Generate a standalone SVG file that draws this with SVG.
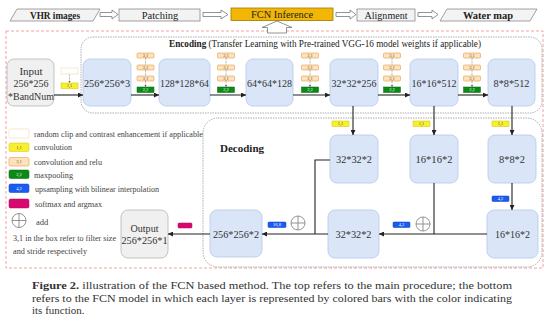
<svg xmlns="http://www.w3.org/2000/svg" width="550" height="322" viewBox="0 0 550 322">
<defs>
<style>
text{font-family:"Liberation Serif","Times New Roman",serif;fill:#222}
.step{fill:#f3f3f3;stroke:#8a8a8a;stroke-width:0.8}
.fcn{fill:#f2b705;stroke:#a07800;stroke-width:0.8}
.hollow{fill:#fff;stroke:#777;stroke-width:0.8}
.tl{font-size:10.5px;text-anchor:middle}
.node{fill:#dae6f8;stroke:#b3c8ea;stroke-width:0.8}
.gnode{fill:#f0f0f0;stroke:#b5b5b5;stroke-width:0.8}
.nl{font-size:11px;text-anchor:middle;dominant-baseline:central;fill:#333}
.b-w{fill:#fff;stroke:#f0d9b0;stroke-width:0.6}
.b-y{fill:#f7f030;stroke:#d8c000;stroke-width:0.5}
.b-o{fill:#fde2bd;stroke:#e49b48;stroke-width:0.6}
.b-g{fill:#0b8a16;stroke:#06650f;stroke-width:0.5}
.b-b{fill:#1a5cf2;stroke:#0b3fb8;stroke-width:0.5}
.b-m{fill:#d8086f;stroke:#b0055a;stroke-width:0.5}
.bt{font-size:4.5px;text-anchor:middle;dominant-baseline:central;fill:#6a4a10}
.btw{font-size:4.5px;text-anchor:middle;dominant-baseline:central;fill:#fff}
.lt{font-size:8.5px;dominant-baseline:central;fill:#444}
.wire{fill:none;stroke:#222;stroke-width:1.1}
.tiny{fill:none;stroke:#555;stroke-width:0.5;stroke-dasharray:0.8,0.6}
.addc{fill:#fff;stroke:#888;stroke-width:0.9}
.cap{font-size:11px;fill:#333}
</style>
<marker id="ah" viewBox="0 0 10 10" refX="10" refY="5" markerWidth="5" markerHeight="5" orient="auto" markerUnits="userSpaceOnUse">
<path d="M0,0 L10,5 L0,10 z" fill="#222"/>
</marker>
<marker id="ahs" viewBox="0 0 10 10" refX="10" refY="5" markerWidth="2.5" markerHeight="2.5" orient="auto" markerUnits="userSpaceOnUse">
<path d="M0,0 L10,5 L0,10 z" fill="#555"/>
</marker>
<g id="addsym">
<circle cx="0" cy="0" r="7" class="addc"/>
<path d="M-7,0 H7 M0,-7 V7" stroke="#888" stroke-width="0.9"/>
</g>
</defs>

<!-- top procedure -->
<g id="step-vhr">
<polygon class="step" points="17,9 100,9 93,21 10,21"/>
<text class="tl" x="55" y="18.5" font-weight="bold" textLength="50" lengthAdjust="spacingAndGlyphs">VHR images</text>
</g>
<g id="step-patching">
<rect class="step" x="119" y="9" width="81" height="12"/>
<text class="tl" x="160" y="18.5">Patching</text>
</g>
<g id="step-fcn">
<rect class="fcn" x="231" y="8" width="102" height="12.5"/>
<text class="tl" x="282" y="18" textLength="62" lengthAdjust="spacingAndGlyphs">FCN Inference</text>
</g>
<g id="step-alignment">
<rect class="step" x="357" y="9" width="58" height="12"/>
<text class="tl" x="386" y="18.5" textLength="43" lengthAdjust="spacingAndGlyphs">Alignment</text>
</g>
<g id="step-water">
<polygon class="step" points="447,9 537,9 530,21 440,21"/>
<text class="tl" x="488" y="18.5" font-weight="bold" textLength="50" lengthAdjust="spacingAndGlyphs">Water map</text>
</g>
<g id="top-arrows">
<polygon class="hollow" points="100,12.5 112,12.5 112,10 118,14.5 112,19 112,16.5 100,16.5"/>
<polygon class="hollow" points="203,12.5 221,12.5 221,10 228,14.5 221,19 221,16.5 203,16.5"/>
<polygon class="hollow" points="336,12.5 350,12.5 350,10 356,14.5 350,19 350,16.5 336,16.5"/>
<polygon class="hollow" points="418,12.5 432,12.5 432,10 438,14.5 432,19 432,16.5 418,16.5"/>
</g>

<!-- containers -->
<rect id="fcn-model" x="6" y="31" width="537" height="237" fill="none" stroke="#f08a8a" stroke-width="0.8" stroke-dasharray="3,2"/>
<polygon id="up-arrow" class="hollow" points="277,21 292,27.5 286.5,27.5 286.5,33 267.5,33 267.5,27.5 262,27.5"/>
<g id="encoding">
<rect x="81" y="37" width="461" height="76" rx="12" fill="none" stroke="#9a9a9a" stroke-width="0.8" stroke-dasharray="1.5,1"/>
<text x="169" y="46.5" font-size="10" textLength="312" lengthAdjust="spacingAndGlyphs" fill="#333"><tspan font-weight="bold">Encoding</tspan> (Transfer Learning with Pre-trained VGG-16 model weights if applicable)</text>
</g>
<g id="decoding">
<rect x="203" y="118" width="339" height="149" rx="15" fill="none" stroke="#9a9a9a" stroke-width="0.8" stroke-dasharray="1.5,1"/>
<text x="242" y="152" font-size="11" font-weight="bold" text-anchor="middle">Decoding</text>
</g>

<!-- encoding nodes -->
<g id="n-input">
<rect class="gnode" x="7" y="59" width="47" height="47" rx="7"/>
<text class="nl" x="31" y="71">Input</text>
<text class="nl" x="31" y="83" textLength="35" lengthAdjust="spacingAndGlyphs">256*256</text>
<text class="nl" x="31" y="95.5" textLength="46" lengthAdjust="spacingAndGlyphs">*BandNum</text>
</g>
<g id="n-e1">
<rect class="node" x="83" y="59" width="48" height="47" rx="7"/>
<text class="nl" x="107" y="82.5" textLength="46" lengthAdjust="spacingAndGlyphs">256*256*3</text>
</g>
<g id="n-e2">
<rect class="node" x="159" y="59" width="51" height="47" rx="7"/>
<text class="nl" x="184.5" y="82.5" textLength="49" lengthAdjust="spacingAndGlyphs">128*128*64</text>
</g>
<g id="n-e3">
<rect class="node" x="246" y="59" width="47" height="47" rx="7"/>
<text class="nl" x="269.5" y="82.5" textLength="45" lengthAdjust="spacingAndGlyphs">64*64*128</text>
</g>
<g id="n-e4">
<rect class="node" x="330" y="59" width="48" height="47" rx="7"/>
<text class="nl" x="354" y="82.5" textLength="45" lengthAdjust="spacingAndGlyphs">32*32*256</text>
</g>
<g id="n-e5">
<rect class="node" x="410" y="59" width="48" height="47" rx="7"/>
<text class="nl" x="434" y="82.5" textLength="45" lengthAdjust="spacingAndGlyphs">16*16*512</text>
</g>
<g id="n-e6">
<rect class="node" x="488" y="59" width="47" height="47" rx="7"/>
<text class="nl" x="511.5" y="82.5" textLength="36" lengthAdjust="spacingAndGlyphs">8*8*512</text>
</g>

<!-- decoding nodes -->
<g id="n-d1">
<rect class="node" x="330" y="135" width="48" height="48" rx="7"/>
<text class="nl" x="354" y="159" textLength="36" lengthAdjust="spacingAndGlyphs">32*32*2</text>
</g>
<g id="n-d2">
<rect class="node" x="410" y="135" width="48" height="48" rx="7"/>
<text class="nl" x="434" y="159" textLength="37" lengthAdjust="spacingAndGlyphs">16*16*2</text>
</g>
<g id="n-d3">
<rect class="node" x="488" y="135" width="48" height="48" rx="7"/>
<text class="nl" x="512" y="159" textLength="26" lengthAdjust="spacingAndGlyphs">8*8*2</text>
</g>
<g id="n-d4">
<rect class="node" x="487" y="210" width="51" height="48" rx="7"/>
<text class="nl" x="512.5" y="234" textLength="35" lengthAdjust="spacingAndGlyphs">16*16*2</text>
</g>
<g id="n-d5">
<rect class="node" x="328" y="210" width="51" height="48" rx="7"/>
<text class="nl" x="353.5" y="234" textLength="36" lengthAdjust="spacingAndGlyphs">32*32*2</text>
</g>
<g id="n-d6">
<rect class="node" x="210" y="210" width="52" height="47" rx="7"/>
<text class="nl" x="236" y="234" textLength="46" lengthAdjust="spacingAndGlyphs">256*256*2</text>
</g>
<g id="n-output">
<rect class="gnode" x="121" y="210" width="47" height="48" rx="7"/>
<text class="nl" x="144.5" y="228" textLength="28" lengthAdjust="spacingAndGlyphs">Output</text>
<text class="nl" x="144.5" y="240" textLength="46" lengthAdjust="spacingAndGlyphs">256*256*1</text>
</g>

<!-- connectors -->
<g id="connectors">
<path class="wire" marker-end="url(#ah)" d="M54,95 H83"/>
<path class="wire" marker-end="url(#ah)" d="M131,95 H159"/>
<path class="wire" marker-end="url(#ah)" d="M210,95 H246"/>
<path class="wire" marker-end="url(#ah)" d="M293,95 H330"/>
<path class="wire" marker-end="url(#ah)" d="M378,95 H410"/>
<path class="wire" marker-end="url(#ah)" d="M458,95 H488"/>
<path class="wire" marker-end="url(#ah)" d="M353,106 V135"/>
<path class="wire" marker-end="url(#ah)" d="M434,106 V135"/>
<path class="wire" marker-end="url(#ah)" d="M512,106 V135"/>
<path class="wire" marker-end="url(#ah)" d="M512,183 V210"/>
<path class="wire" d="M434,183 V234"/>
<path class="wire" marker-end="url(#ah)" d="M487,234 H379"/>
<path class="wire" d="M330,160 H315 V234"/>
<path class="wire" marker-end="url(#ah)" d="M328,234 H262"/>
<path class="wire" marker-end="url(#ah)" d="M210,234 H168"/>
<!-- tiny arrows in stacks -->
<path class="tiny" marker-end="url(#ahs)" d="M69.5,74 V83"/>
<path class="tiny" marker-end="url(#ahs)" d="M145.5,58 V65 M145.5,70 V76 M145.5,81 V87"/>
<path class="tiny" marker-end="url(#ahs)" d="M226,58 V65 M226,70 V76 M226,81 V87"/>
<path class="tiny" marker-end="url(#ahs)" d="M310,58 V65 M310,70 V76 M310,81 V87"/>
<path class="tiny" marker-end="url(#ahs)" d="M392,58 V65 M392,70 V76 M392,81 V87"/>
<path class="tiny" marker-end="url(#ahs)" d="M472,58 V65 M472,70 V76 M472,81 V87"/>
</g>

<!-- layer bars -->
<g id="bars-input">
<rect class="b-w" x="61" y="68" width="17" height="6"/>
<rect class="b-y" x="61" y="83" width="17" height="5.5"/>
<text class="bt" x="69.5" y="85.8">1,1</text>
</g>
<g id="bars-s1">
<rect class="b-o" x="137" y="53" width="17" height="5" rx="1"/><text class="bt" x="145.5" y="55.5">3,1</text>
<rect class="b-o" x="137" y="65" width="17" height="5" rx="1"/><text class="bt" x="145.5" y="67.5">3,1</text>
<rect class="b-o" x="137" y="76" width="17" height="5" rx="1"/><text class="bt" x="145.5" y="78.5">3,1</text>
<rect class="b-g" x="137" y="87" width="17" height="5.5"/><text class="btw" x="145.5" y="89.8">2,2</text>
</g>
<g id="bars-s2">
<rect class="b-o" x="217.5" y="53" width="17" height="5" rx="1"/><text class="bt" x="226" y="55.5">3,1</text>
<rect class="b-o" x="217.5" y="65" width="17" height="5" rx="1"/><text class="bt" x="226" y="67.5">3,1</text>
<rect class="b-o" x="217.5" y="76" width="17" height="5" rx="1"/><text class="bt" x="226" y="78.5">3,1</text>
<rect class="b-g" x="217.5" y="87" width="17" height="5.5"/><text class="btw" x="226" y="89.8">2,2</text>
</g>
<g id="bars-s3">
<rect class="b-o" x="301.5" y="53" width="17" height="5" rx="1"/><text class="bt" x="310" y="55.5">3,1</text>
<rect class="b-o" x="301.5" y="65" width="17" height="5" rx="1"/><text class="bt" x="310" y="67.5">3,1</text>
<rect class="b-o" x="301.5" y="76" width="17" height="5" rx="1"/><text class="bt" x="310" y="78.5">3,1</text>
<rect class="b-g" x="301.5" y="87" width="17" height="5.5"/><text class="btw" x="310" y="89.8">2,2</text>
</g>
<g id="bars-s4">
<rect class="b-o" x="383.5" y="53" width="17" height="5" rx="1"/><text class="bt" x="392" y="55.5">3,1</text>
<rect class="b-o" x="383.5" y="65" width="17" height="5" rx="1"/><text class="bt" x="392" y="67.5">3,1</text>
<rect class="b-o" x="383.5" y="76" width="17" height="5" rx="1"/><text class="bt" x="392" y="78.5">3,1</text>
<rect class="b-g" x="383.5" y="87" width="17" height="5.5"/><text class="btw" x="392" y="89.8">2,2</text>
</g>
<g id="bars-s5">
<rect class="b-o" x="463.5" y="53" width="17" height="5" rx="1"/><text class="bt" x="472" y="55.5">3,1</text>
<rect class="b-o" x="463.5" y="65" width="17" height="5" rx="1"/><text class="bt" x="472" y="67.5">3,1</text>
<rect class="b-o" x="463.5" y="76" width="17" height="5" rx="1"/><text class="bt" x="472" y="78.5">3,1</text>
<rect class="b-g" x="463.5" y="87" width="17" height="5.5"/><text class="btw" x="472" y="89.8">2,2</text>
</g>
<g id="bars-decoding">
<rect class="b-y" x="332" y="121" width="17" height="5.5"/><text class="bt" x="340.5" y="123.8">1,1</text>
<rect class="b-y" x="413" y="121" width="17" height="5.5"/><text class="bt" x="421.5" y="123.8">1,1</text>
<rect class="b-y" x="492" y="121" width="17" height="5.5"/><text class="bt" x="500.5" y="123.8">1,1</text>
<rect class="b-b" x="492" y="196" width="17" height="5.5" rx="1"/><text class="btw" x="500.5" y="198.8">4,2</text>
<rect class="b-b" x="393" y="222" width="17" height="5.5" rx="1"/><text class="btw" x="401.5" y="224.8">4,2</text>
<rect class="b-b" x="268" y="222" width="18" height="5.5" rx="1"/><text class="btw" x="277" y="224.8">16,8</text>
<rect class="b-m" x="178" y="223" width="14" height="5" rx="1"/>
</g>
<g id="add-1"><use href="#addsym" x="423" y="224"/></g>
<g id="add-2"><use href="#addsym" x="298" y="223"/></g>

<!-- legend -->
<g id="legend">
<rect class="b-w" x="9" y="129" width="20" height="9" rx="1.5"/>
<text class="lt" x="34" y="134" textLength="169" lengthAdjust="spacingAndGlyphs">random clip and contrast enhancement if applicable</text>
<rect class="b-y" x="9" y="143" width="20" height="8.5" rx="1.5"/><text class="bt" x="19" y="147.3" font-size="5">1,1</text>
<text class="lt" x="34" y="147" textLength="38" lengthAdjust="spacingAndGlyphs">convolution</text>
<rect class="b-o" x="9" y="157.5" width="20" height="8.5" rx="1.5"/><text class="bt" x="19" y="161.8" font-size="5">3,1</text>
<text class="lt" x="34" y="162" textLength="68" lengthAdjust="spacingAndGlyphs">convolution and relu</text>
<rect class="b-g" x="9" y="170" width="20" height="8.5" rx="1.5"/><text class="btw" x="19" y="174.3" font-size="5">2,2</text>
<text class="lt" x="34" y="174.5" textLength="39" lengthAdjust="spacingAndGlyphs">maxpooling</text>
<rect class="b-b" x="9" y="184" width="20" height="8.5" rx="1.5"/><text class="btw" x="19" y="188.3" font-size="5">4,2</text>
<text class="lt" x="35" y="188.5" textLength="124" lengthAdjust="spacingAndGlyphs">upsampling with bilinear interpolation</text>
<rect class="b-m" x="9" y="199" width="20" height="9" rx="1.5"/>
<text class="lt" x="35" y="203.5" textLength="67" lengthAdjust="spacingAndGlyphs">softmax and argmax</text>
<use href="#addsym" x="19" y="220.5"/>
<text class="lt" x="36" y="222">add</text>
<text class="lt" x="13" y="238" textLength="103" lengthAdjust="spacingAndGlyphs">3,1 in the box refer to filter size</text>
<text class="lt" x="13" y="250.5" textLength="74" lengthAdjust="spacingAndGlyphs">and stride respectively</text>
</g>

<!-- caption -->
<g id="caption">
<text class="cap" x="32" y="289" textLength="480" lengthAdjust="spacingAndGlyphs"><tspan font-weight="bold">Figure 2.</tspan> illustration of the FCN based method. The top refers to the main procedure; the bottom</text>
<text class="cap" x="32" y="301.5" textLength="480" lengthAdjust="spacingAndGlyphs">refers to the FCN model in which each layer is represented by colored bars with the color indicating</text>
<text class="cap" x="32" y="314">its function.</text>
</g>
</svg>
